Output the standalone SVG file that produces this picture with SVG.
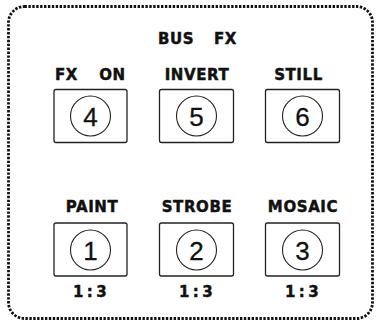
<svg xmlns="http://www.w3.org/2000/svg" width="377" height="324" viewBox="0 0 377 324">
<style>
.lbl{font-family:"DejaVu Sans",sans-serif;font-weight:bold;font-size:15px;fill:#111;stroke:#111;stroke-width:0.45;text-anchor:middle;letter-spacing:0.6px}
.num{font-family:"Liberation Sans",sans-serif;font-size:26px;fill:#111;stroke:#111;stroke-width:0.3;text-anchor:middle}
.box{fill:#fff;stroke:#222;stroke-width:1.3}
.ring{fill:none;stroke:#222;stroke-width:1.1}
.ratio{font-family:"DejaVu Sans",sans-serif;font-weight:bold;font-size:15px;fill:#111;stroke:#111;stroke-width:0.45;text-anchor:middle;letter-spacing:3.3px}
</style>
<rect width="377" height="324" fill="#fff"/>
<rect x="8.5" y="6.5" width="364" height="312" rx="16" fill="none" stroke="#111" stroke-width="2.8" stroke-dasharray="2.4 1.5"/>
<text class="lbl" y="44"><tspan x="176">BUS</tspan><tspan x="225.5">FX</tspan></text>
<g id="btn4">
<text class="lbl" y="80"><tspan x="66.5">FX</tspan><tspan x="112.5">ON</tspan></text>
<rect class="box" x="54" y="89.5" width="73" height="53" rx="2"/>
<circle class="ring" cx="90.5" cy="116" r="20"/>
<text class="num" x="90.5" y="125.5">4</text>
</g>
<g id="btn5">
<text class="lbl" x="197" y="80">INVERT</text>
<rect class="box" x="159.5" y="89.5" width="74" height="53" rx="2"/>
<circle class="ring" cx="196.5" cy="116" r="20"/>
<text class="num" x="196.5" y="125.5">5</text>
</g>
<g id="btn6">
<text class="lbl" x="298.5" y="80">STILL</text>
<rect class="box" x="265.5" y="89.5" width="74" height="53" rx="2"/>
<circle class="ring" cx="302.5" cy="116" r="20"/>
<text class="num" x="302.5" y="125.5">6</text>
</g>
<g id="btn1">
<text class="lbl" x="92" y="212">PAINT</text>
<rect class="box" x="54" y="223" width="73" height="53" rx="2"/>
<circle class="ring" cx="90.5" cy="250" r="20"/>
<text class="num" x="90.5" y="259.5">1</text>
<text class="ratio" x="91.5" y="297">1:3</text>
</g>
<g id="btn2">
<text class="lbl" x="197" y="212">STROBE</text>
<rect class="box" x="159.5" y="223" width="74" height="53" rx="2"/>
<circle class="ring" cx="196.5" cy="250" r="20"/>
<text class="num" x="196.5" y="259.5">2</text>
<text class="ratio" x="197.5" y="297">1:3</text>
</g>
<g id="btn3">
<text class="lbl" x="303" y="212">MOSAIC</text>
<rect class="box" x="265.5" y="223" width="74" height="53" rx="2"/>
<circle class="ring" cx="302.5" cy="250" r="20"/>
<text class="num" x="302.5" y="259.5">3</text>
<text class="ratio" x="303.5" y="297">1:3</text>
</g>
<g id="connectors"/>
</svg>
